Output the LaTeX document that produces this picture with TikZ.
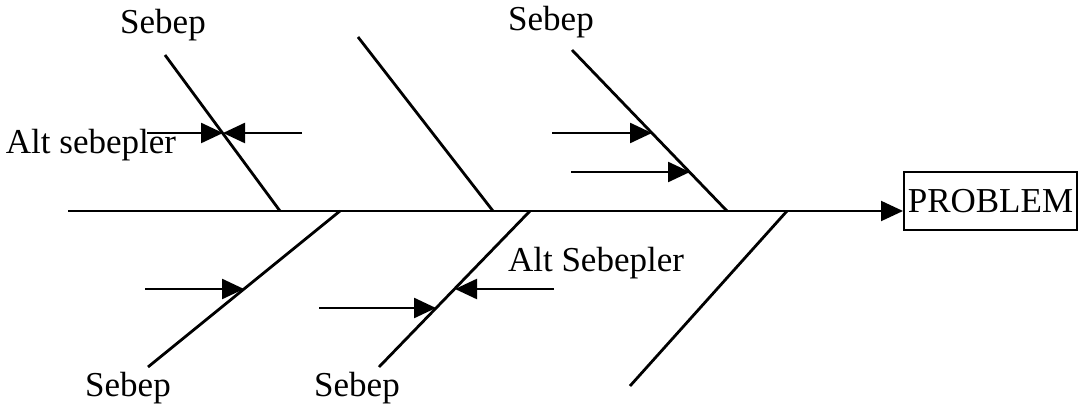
\documentclass[tikz,border=0pt]{standalone}
\usepackage{fontspec}
\setmainfont{Liberation Serif}
\usetikzlibrary{arrows.meta,positioning}

\begin{document}
\begin{tikzpicture}[x=0.5pt, y=-0.5pt, >={Triangle[length=11pt,width=10pt]},
  every node/.style={font=\fontsize{17.5}{20}\selectfont},
  bone/.style={line width=1.4pt},
  sub/.style={line width=1.2pt, ->},
  probbox/.style={draw, line width=0.8pt, inner sep=2pt, minimum height=29pt}]
\useasboundingbox (0,0) rectangle (1087,411);
% spine and problem
\coordinate (tail) at (68,211);
\node[probbox, anchor=west] (prob) at (903,201) {PROBLEM};
\draw[line width=1pt, ->] (tail) -- (tail -| prob.west);
% main causes (feet on the spine, free ends)
\coordinate (b1) at (280,211); \coordinate (b1e) at (165,55);
\coordinate (b2) at (493,211); \coordinate (b2e) at (358,37);
\coordinate (b3) at (727,211); \coordinate (b3e) at (572,50);
\coordinate (b4) at (340,211); \coordinate (b4e) at (148,367);
\coordinate (b5) at (530,211); \coordinate (b5e) at (379,367);
\coordinate (b6) at (787,211); \coordinate (b6e) at (630,386);
\foreach \b in {1,...,6} \draw[bone] (b\b) -- (b\b e);
% labels
\node (s1) at (163,25) {Sebep};
\node (s3) at (551,22) {Sebep};
\node (s4) at (128,388) {Sebep};
\node (s5) at (357,388) {Sebep};
\node (alt1) at (91,145) {Alt sebepler};
\node (alt2) at (596,263) {Alt Sebepler};
% sub-causes
\coordinate (a1) at (147,133); \coordinate (a1t) at (223,133);
\coordinate (a2) at (302,133); \coordinate (a2t) at (223,133);
\coordinate (a3) at (552,133); \coordinate (a3t) at (652,133);
\coordinate (a4) at (571,172); \coordinate (a4t) at (690,172);
\coordinate (a5) at (145,289); \coordinate (a5t) at (244,289);
\coordinate (a6) at (319,308); \coordinate (a6t) at (436,308);
\coordinate (a7) at (554,289); \coordinate (a7t) at (455,289);
\foreach \a in {1,...,7} \draw[sub] (a\a) -- (a\a t);
\end{tikzpicture}
\end{document}
